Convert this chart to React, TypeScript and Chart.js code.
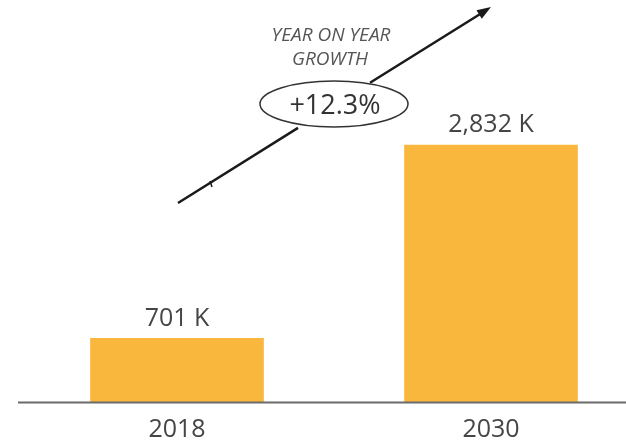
import React, { useEffect, useRef } from "react";
import { Chart, registerables } from "chart.js";

Chart.register(...registerables);

const categories = ["2018", "2030"];
const values = [701, 2832];
const valueLabels = ["701 K", "2,832 K"];
const growthTitle = ["YEAR ON YEAR", "GROWTH"];
const growthLabel = "+12.3%";

const BAR_COLOR = "#F9B73E";
const TEXT_COLOR = "#454545";

const overlayPlugin = {
  id: "overlay",
  afterDatasetsDraw(chart: any) {
    const ctx = chart.ctx;
    const area = chart.chartArea;
    const meta = chart.getDatasetMeta(0);
    ctx.save();
    // value labels
    ctx.fillStyle = TEXT_COLOR;
    ctx.font = "25px 'Open Sans'";
    ctx.textAlign = "center";
    ctx.textBaseline = "middle";
    meta.data.forEach((bar: any, i: number) => {
      ctx.fillText(valueLabels[i], bar.x, bar.y - 20);
    });
    // axis line
    ctx.strokeStyle = "#6b6b6b";
    ctx.lineWidth = 2;
    ctx.beginPath();
    ctx.moveTo(18, area.bottom + 0.5);
    ctx.lineTo(chart.width, area.bottom + 0.5);
    ctx.stroke();

    // growth arrow
    const x0 = 178, y0 = 203, x1 = 491, y1 = 7;
    const cx = 334, cy = 104, rx = 74, ry = 23;
    const slope = (y1 - y0) / (x1 - x0);
    ctx.strokeStyle = "#1a1a1a";
    ctx.lineWidth = 2.5;
    ctx.beginPath();
    ctx.moveTo(x0, y0);
    ctx.lineTo(298, y0 + slope * (298 - x0));
    ctx.moveTo(370, y0 + slope * (370 - x0));
    ctx.lineTo(x1 - 6, y1 + 4);
    ctx.stroke();
    // arrow head
    const ang = Math.atan2(y1 - y0, x1 - x0);
    ctx.fillStyle = "#1a1a1a";
    ctx.beginPath();
    ctx.moveTo(x1, y1);
    ctx.lineTo(x1 - 14 * Math.cos(ang) + 5 * Math.sin(ang), y1 - 14 * Math.sin(ang) - 5 * Math.cos(ang));
    ctx.lineTo(x1 - 14 * Math.cos(ang) - 5 * Math.sin(ang), y1 - 14 * Math.sin(ang) + 5 * Math.cos(ang));
    ctx.closePath();
    ctx.fill();
    // small notch
    ctx.lineWidth = 1.5;
    ctx.beginPath();
    ctx.moveTo(210, 181);
    ctx.lineTo(212, 187);
    ctx.stroke();

    // ellipse
    ctx.strokeStyle = "#333";
    ctx.lineWidth = 1.5;
    ctx.beginPath();
    ctx.ellipse(cx, cy, rx, ry, 0, 0, Math.PI * 2);
    ctx.stroke();
    ctx.fillStyle = "#333";
    ctx.font = "27px 'Open Sans'";
    ctx.fillText(growthLabel, cx + 1, cy + 2);

    ctx.fillStyle = "#555";
    ctx.font = "italic 19px 'Open Sans'";
    ctx.fillText(growthTitle[0], 331, 36);
    ctx.fillText(growthTitle[1], 330, 60);
    ctx.restore();
  },
};

export default function App() {
  const ref = useRef<HTMLCanvasElement | null>(null);
  useEffect(() => {
    document.body.style.margin = "0";
    const chart = new Chart(ref.current as HTMLCanvasElement, {
      type: "bar",
      data: {
        labels: categories,
        datasets: [
          {
            data: values,
            backgroundColor: BAR_COLOR,
            borderWidth: 0,
            barThickness: 173,
            clip: false,
          } as any,
        ],
      },
      options: {
        animation: false,
        responsive: false,
        layout: { padding: { left: 177, right: 135, top: 21, bottom: 0 } },
        plugins: { legend: { display: false }, tooltip: { enabled: false } },
        scales: {
          x: {
            offset: false,
            grid: { display: false, drawTicks: false },
            border: { display: false },
            ticks: { color: TEXT_COLOR, font: { family: "'Open Sans'", size: 25 }, padding: 13, maxRotation: 0, autoSkip: false },
            afterFit(scale: any) {
              scale.height = 43;
            },
          },
          y: { display: false, min: 0, max: 4200 },
        },
      },
      plugins: [overlayPlugin],
    });
    return () => chart.destroy();
  }, []);
  return (
    <div style={{ width: 626, height: 445 }}>
      <canvas ref={ref} width={626} height={445} />
    </div>
  );
}
